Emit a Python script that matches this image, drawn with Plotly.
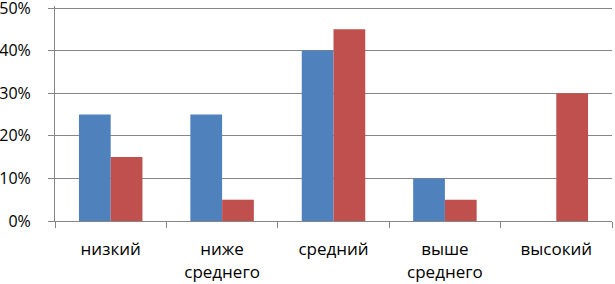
import plotly.graph_objects as go

categories = ["низкий", "ниже<br>среднего", "средний", "выше<br>среднего", "высокий"]
series_a = [0.25, 0.25, 0.40, 0.10, 0.0]
series_b = [0.15, 0.05, 0.45, 0.05, 0.30]
y_ticks = [0, 0.1, 0.2, 0.3, 0.4, 0.5]
y_labels = ["0%", "10%", "20%", "30%", "40%", "50%"]

fig = go.Figure()
fig.add_trace(go.Bar(x=categories, y=series_a, marker=dict(color="#4F81BD", line=dict(width=0))))
fig.add_trace(go.Bar(x=categories, y=series_b, marker=dict(color="#C0504D", line=dict(width=0))))

xfont = dict(family="Open Sans", size=17, color="#000000")
yfont = dict(family="Open Sans", size=16, color="#000000")
fig.update_layout(
    width=615, height=284,
    margin=dict(l=55, r=3, t=6, b=63, autoexpand=False),
    paper_bgcolor="white", plot_bgcolor="white",
    barmode="group", bargap=0.43, bargroupgap=0,
    showlegend=False,
    font=yfont,
)
fig.update_xaxes(
    type="category", tickson="boundaries", ticks="outside", ticklen=6,
    tickcolor="#868686", showline=True, linecolor="#868686", linewidth=1,
    showgrid=False, tickfont=xfont, automargin=False, ticklabelstandoff=13,
)
fig.update_yaxes(
    range=[0, 0.5047], tickvals=y_ticks, ticktext=y_labels, ticks="outside",
    ticklen=6, tickcolor="#868686", showline=True, linecolor="#868686",
    linewidth=1, showgrid=True, gridcolor="#868686", gridwidth=1,
    zeroline=False, tickfont=yfont, automargin=False, ticklabelstandoff=14,
    ticklabeloverflow="allow",
)
fig.write_html(
    "out.html",
    config={"displayModeBar": False},
    post_script="document.body.style.margin='0';document.body.style.overflow='hidden';",
)
